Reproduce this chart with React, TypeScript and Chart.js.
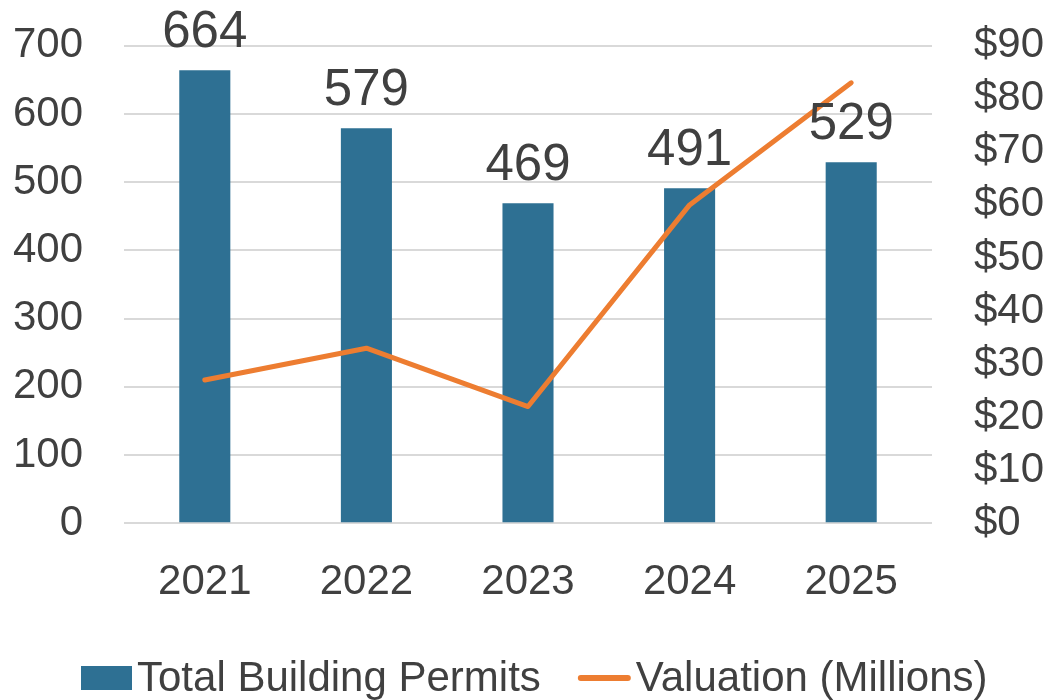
import React, { useEffect, useRef } from "react";
import { Chart, registerables } from "chart.js";

Chart.register(...registerables);

const categories = ["2021", "2022", "2023", "2024", "2025"];
const permits = [664, 579, 469, 491, 529];
const valuation = [27, 33, 22, 60, 83];
const leftTicks = [0, 100, 200, 300, 400, 500, 600, 700];
const rightTicks = [0, 10, 20, 30, 40, 50, 60, 70, 80, 90];
const seriesNames = ["Total Building Permits", "Valuation (Millions)"];

const BAR_COLOR = "#2E7093";
const LINE_COLOR = "#ED7D31";
const TEXT_COLOR = "#404040";
const GRID_COLOR = "#D9D9D9";
const FONT = "'Liberation Sans', Arial, sans-serif";

const dataLabelPlugin = {
  id: "dataLabels",
  afterDatasetsDraw(chart: any) {
    const ctx = chart.ctx;
    const meta = chart.getDatasetMeta(0);
    ctx.save();
    ctx.font = `51px ${FONT}`;
    ctx.fillStyle = TEXT_COLOR;
    ctx.textAlign = "center";
    ctx.textBaseline = "alphabetic";
    meta.data.forEach((bar: any, i: number) => {
      ctx.fillText(String(chart.data.datasets[0].data[i]), bar.x, bar.y - 23);
    });
    ctx.restore();
  },
};

const legendPlugin = {
  id: "customLegend",
  afterDraw(chart: any) {
    const ctx = chart.ctx;
    ctx.save();
    ctx.font = `42px ${FONT}`;
    ctx.fillStyle = TEXT_COLOR;
    ctx.textBaseline = "alphabetic";
    ctx.textAlign = "left";
    const ds = chart.data.datasets;
    const baseline = 691;
    let x = 81;
    ctx.fillStyle = ds[0].backgroundColor;
    ctx.fillRect(x, 666, 51, 24);
    x += 51 + 5;
    ctx.fillStyle = TEXT_COLOR;
    ctx.fillText(ds[0].label, x, baseline);
    x += ctx.measureText(ds[0].label).width + 37;
    ctx.strokeStyle = ds[1].borderColor;
    ctx.lineWidth = 6;
    ctx.lineCap = "round";
    ctx.beginPath();
    ctx.moveTo(x + 3, 678);
    ctx.lineTo(x + 50, 678);
    ctx.stroke();
    x += 53 + 5;
    ctx.fillText(ds[1].label, x, baseline);
    ctx.restore();
  },
};

export default function App() {
  const canvasRef = useRef<HTMLCanvasElement | null>(null);

  useEffect(() => {
    if (!canvasRef.current) return;
    Chart.defaults.font.family = FONT;
    const chart = new Chart(canvasRef.current, {
      type: "bar",
      data: {
        labels: categories,
        datasets: [
          {
            type: "bar",
            label: seriesNames[0],
            data: permits,
            backgroundColor: BAR_COLOR,
            borderWidth: 0,
            barPercentage: 0.316,
            categoryPercentage: 1,
            yAxisID: "y",
            order: 2,
          },
          {
            type: "line",
            label: seriesNames[1],
            data: valuation,
            borderColor: LINE_COLOR,
            backgroundColor: LINE_COLOR,
            borderWidth: 5,
            borderCapStyle: "round",
            borderJoinStyle: "round",
            pointRadius: 0,
            tension: 0,
            yAxisID: "y1",
            order: 1,
          },
        ] as any,
      },
      options: {
        responsive: false,
        animation: false,
        layout: { padding: { top: 45.7, left: 0, right: 0, bottom: 0 } },
        plugins: {
          legend: { display: false },
          tooltip: { enabled: false },
        },
        scales: {
          x: {
            grid: { display: false, drawTicks: false },
            border: { display: false },
            ticks: {
              color: TEXT_COLOR,
              font: { size: 42, family: FONT },
              padding: 34,
              maxRotation: 0,
            },
            afterFit: (s: any) => {
              s.height = 176.7;
              s.paddingLeft = 0;
              s.paddingRight = 0;
            },
          },
          y: {
            position: "left",
            min: leftTicks[0],
            max: leftTicks[leftTicks.length - 1],
            afterBuildTicks: (s: any) => {
              s.ticks = leftTicks.map((v) => ({ value: v }));
            },
            grid: { color: GRID_COLOR, lineWidth: 2, drawTicks: false },
            border: { display: false },
            ticks: {
              color: TEXT_COLOR,
              font: { size: 42, family: FONT },
              padding: 41,
              autoSkip: false,
            },
            afterFit: (s: any) => {
              s.width = 124;
              s.paddingTop = 0;
              s.paddingBottom = 0;
            },
          },
          y1: {
            position: "right",
            min: rightTicks[0],
            max: rightTicks[rightTicks.length - 1],
            afterBuildTicks: (s: any) => {
              s.ticks = rightTicks.map((v) => ({ value: v }));
            },
            grid: { drawOnChartArea: false, drawTicks: false },
            border: { display: false },
            ticks: {
              color: TEXT_COLOR,
              font: { size: 42, family: FONT },
              padding: 42,
              autoSkip: false,
              callback: (v: any) => "$" + v,
            },
            afterFit: (s: any) => {
              s.width = 116;
              s.paddingTop = 0;
              s.paddingBottom = 0;
            },
          },
        },
      } as any,
      plugins: [dataLabelPlugin, legendPlugin],
    });
    return () => chart.destroy();
  }, []);

  return (
    <div style={{ position: "absolute", left: 0, top: 0, width: 1048, height: 700, background: "#fff" }}>
      <canvas ref={canvasRef} width={1048} height={700} style={{ width: 1048, height: 700, display: "block" }} />
    </div>
  );
}
